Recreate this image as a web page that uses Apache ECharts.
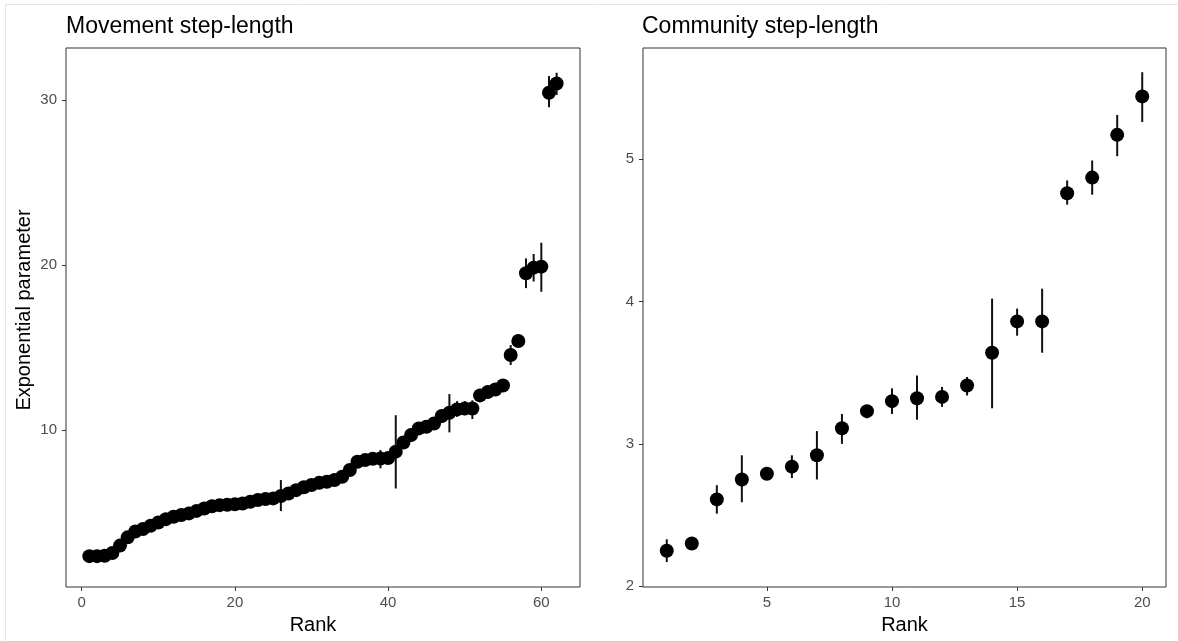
<!DOCTYPE html>
<html>
<head>
<meta charset="utf-8">
<script src="https://cdn.jsdelivr.net/npm/echarts@6/dist/echarts.min.js"></script>
<style>
  html, body { margin: 0; padding: 0; background: #fff; }
  #chart { width: 1178px; height: 641px; }
</style>
</head>
<body>
<div id="chart"></div>
<script>
// Movement step-length: rank, estimate and interval bounds
const moveRank = [1,2,3,4,5,6,7,8,9,10,11,12,13,14,15,16,17,18,19,20,21,22,23,24,25,26,27,28,29,30,31,32,33,34,35,36,37,38,39,40,41,42,43,44,45,46,47,48,49,50,51,52,53,54,55,56,57,58,59,60,61,62];
const moveValue = [2.36,2.36,2.38,2.55,3.0,3.5,3.85,4.0,4.2,4.4,4.6,4.75,4.85,4.95,5.1,5.25,5.38,5.45,5.47,5.5,5.55,5.66,5.76,5.82,5.86,6.0,6.16,6.36,6.53,6.67,6.8,6.87,6.97,7.17,7.58,8.08,8.18,8.26,8.28,8.3,8.69,9.25,9.7,10.1,10.2,10.4,10.85,11.05,11.25,11.3,11.31,12.1,12.3,12.46,12.7,14.55,15.4,19.5,19.84,19.9,30.44,31.0];
const moveLow = [2.25,2.27,2.28,2.45,2.9,3.4,3.75,3.9,4.1,4.3,4.5,4.65,4.75,4.55,5.0,5.15,5.28,5.35,5.37,5.4,5.45,5.56,5.66,5.72,5.76,5.09,6.06,6.26,6.43,6.57,6.7,6.77,6.87,7.07,7.48,7.98,8.08,8.16,7.68,8.2,6.46,9.15,9.6,10.0,10.1,10.3,10.75,9.86,10.8,10.9,10.67,11.7,12.2,12.36,12.6,13.94,15.25,18.6,19.0,18.38,29.56,30.3];
const moveHigh = [2.47,2.45,2.48,2.65,3.1,3.6,3.95,4.1,4.3,4.5,4.7,4.85,4.95,5.35,5.2,5.35,5.48,5.55,5.57,5.6,5.65,5.76,5.86,5.92,5.96,6.97,6.26,6.46,6.63,6.77,6.9,6.97,7.07,7.27,7.68,8.18,8.28,8.36,8.79,8.4,10.9,9.35,9.8,10.2,10.3,10.5,10.95,12.18,11.75,11.75,11.8,12.5,12.4,12.56,12.8,15.15,15.55,20.4,20.67,21.35,31.45,31.65];

// Community step-length
const commRank = [1,2,3,4,5,6,7,8,9,10,11,12,13,14,15,16,17,18,19,20];
const commValue = [2.25,2.30,2.61,2.75,2.79,2.84,2.92,3.11,3.23,3.30,3.32,3.33,3.41,3.64,3.86,3.86,4.76,4.87,5.17,5.44];
const commLow = [2.17,2.27,2.51,2.59,2.76,2.76,2.75,3.00,3.18,3.21,3.17,3.26,3.34,3.25,3.76,3.64,4.68,4.75,5.02,5.26];
const commHigh = [2.33,2.33,2.71,2.92,2.82,2.92,3.09,3.21,3.27,3.39,3.48,3.40,3.47,4.02,3.95,4.09,4.85,4.99,5.31,5.61];

// Tick values
const moveXTicks = [0, 20, 40, 60];
const moveYTicks = [10, 20, 30];
const commXTicks = [5, 10, 15, 20];
const commYTicks = [2, 3, 4, 5];

const FONT = '"Liberation Sans", Arial, sans-serif';

function zip3(a, b, c) { return a.map((v, i) => [v, b[i], c[i]]); }
function zip2(a, b) { return a.map((v, i) => [v, b[i]]); }

// vertical interval line from low to high at each rank
function errorBarRender(params, api) {
  const x = api.value(0);
  const lo = api.coord([x, api.value(1)]);
  const hi = api.coord([x, api.value(2)]);
  return {
    type: 'line',
    shape: { x1: lo[0], y1: lo[1], x2: hi[0], y2: hi[1] },
    style: { stroke: '#111', lineWidth: 2 }
  };
}

function xAxis(gridIndex, min, max, ticks, namePad) {
  return {
    type: 'value', gridIndex, min, max,
    name: 'Rank', nameLocation: 'middle', nameGap: 28, nameMoveOverlap: false,
    nameTextStyle: { fontFamily: FONT, fontSize: 20, color: '#000', padding: namePad },
    axisLine: { show: false, onZero: false },
    splitLine: { show: false },
    axisTick: { show: true, length: 4, lineStyle: { color: '#333', width: 1 }, customValues: ticks },
    axisLabel: { color: '#4d4d4d', fontFamily: FONT, fontSize: 15, margin: 8, customValues: ticks }
  };
}

function yAxis(gridIndex, min, max, ticks, name, namePad) {
  return {
    type: 'value', gridIndex, min, max,
    name: name || '', nameLocation: 'middle', nameGap: 32, nameMoveOverlap: false,
    nameTextStyle: { fontFamily: FONT, fontSize: 20, color: '#000', padding: namePad || 0 },
    axisLine: { show: false, onZero: false },
    splitLine: { show: false },
    axisTick: { show: true, length: 4, lineStyle: { color: '#333', width: 1 }, customValues: ticks },
    axisLabel: { color: '#4d4d4d', fontFamily: FONT, fontSize: 15, margin: 9, customValues: ticks }
  };
}

const chart = echarts.init(document.getElementById('chart'));
chart.setOption({
  animation: false,
  backgroundColor: '#fff',
  title: [
    { text: 'Movement step-length', left: 66, top: 15, padding: 0,
      textStyle: { fontFamily: FONT, fontSize: 23, fontWeight: 'normal', color: '#000' } },
    { text: 'Community step-length', left: 642, top: 15, padding: 0,
      textStyle: { fontFamily: FONT, fontSize: 23, fontWeight: 'normal', color: '#000' } }
  ],
  graphic: [
    { type: 'rect', shape: { x: 5.5, y: 4.5, width: 1180, height: 650 },
      style: { fill: 'none', stroke: '#e6e6e6', lineWidth: 1 }, silent: true }
  ],
  grid: [
    { left: 66, top: 48, width: 514, height: 539, show: true, borderColor: '#333', borderWidth: 1, backgroundColor: '#fff' },
    { left: 643, top: 48, width: 523, height: 539, show: true, borderColor: '#333', borderWidth: 1, backgroundColor: '#fff' }
  ],
  xAxis: [
    xAxis(0, -2.05, 65.05, moveXTicks, [0, 20, 0, 0]),
    xAxis(1, 0.05, 20.95, commXTicks, 0)
  ],
  yAxis: [
    yAxis(0, 0.49, 33.15, moveYTicks, 'Exponential parameter', [0, 0, 0, 15]),
    yAxis(1, 1.995, 5.78, commYTicks)
  ],
  series: [
    { type: 'custom', xAxisIndex: 0, yAxisIndex: 0, renderItem: errorBarRender,
      data: zip3(moveRank, moveLow, moveHigh), z: 2 },
    { type: 'scatter', xAxisIndex: 0, yAxisIndex: 0, symbolSize: 14,
      itemStyle: { color: '#000', opacity: 1 }, data: zip2(moveRank, moveValue), z: 3 },
    { type: 'custom', xAxisIndex: 1, yAxisIndex: 1, renderItem: errorBarRender,
      data: zip3(commRank, commLow, commHigh), z: 2 },
    { type: 'scatter', xAxisIndex: 1, yAxisIndex: 1, symbolSize: 14,
      itemStyle: { color: '#000', opacity: 1 }, data: zip2(commRank, commValue), z: 3 }
  ]
});
</script>
</body>
</html>
